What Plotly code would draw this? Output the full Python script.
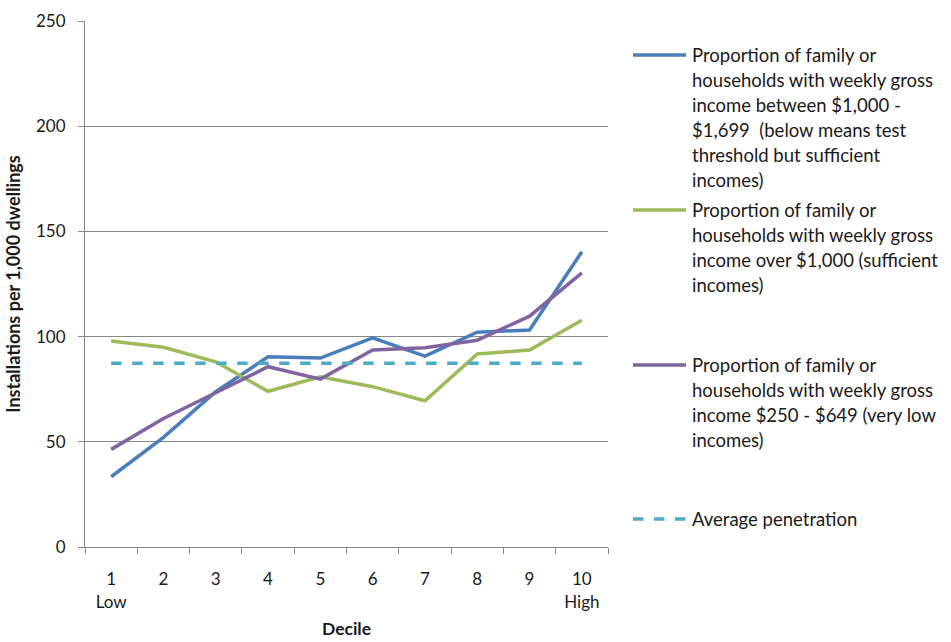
import plotly.graph_objects as go

# Deciles of the area ranking
deciles = ["1<br>Low", "2", "3", "4", "5", "6", "7", "8", "9", "10<br>High"]

# Installations per 1,000 dwellings by decile
mid_income = [33.4, 52.1, 73.8, 90.4, 89.8, 99.4, 90.7, 102.1, 103.1, 140.3]
sufficient_income = [97.9, 94.9, 88.0, 74.0, 80.9, 76.2, 69.5, 91.7, 93.6, 107.8]
very_low_income = [46.4, 61.1, 73.3, 85.7, 79.8, 93.6, 94.7, 98.3, 109.7, 130.3]
average_penetration = [87.3] * 10

series_names = [
    ["Proportion of family or", "households with weekly gross",
     "income between $1,000 -", "$1,699  (below means test",
     "threshold but sufficient", "incomes)"],
    ["Proportion of family or", "households with weekly gross",
     "income over $1,000 (sufficient", "incomes)"],
    ["Proportion of family or", "households with weekly gross",
     "income $250 - $649 (very low", "incomes)"],
    ["Average penetration"],
]

BLUE = "#4A7EBB"
GREEN = "#9BBB59"
PURPLE = "#8064A2"
AQUA = "#4BACC6"
FONT = "Lato"
TEXT = "#1a1a1a"
AXIS = "#888888"

fig = go.Figure()
series = [
    (mid_income, BLUE, "solid"),
    (sufficient_income, GREEN, "solid"),
    (very_low_income, PURPLE, "solid"),
    (average_penetration, AQUA, "dash"),
]
for (vals, col, dash), name in zip(series, series_names):
    fig.add_trace(go.Scatter(
        x=deciles, y=vals, mode="lines", name=" ".join(name),
        line=dict(color=col, width=3.5, dash=dash), showlegend=False,
    ))

W, H = 951, 642
ml, mr, mt, mb = 85, 343, 21, 95
pw, ph = W - ml - mr, H - mt - mb

# Hand-built legend on the right: swatch beside the first line of each entry
legend_tops = [55, 210, 365, 519]
line_gap = 25
for (vals, col, dash), name, top in zip(series, series_names, legend_tops):
    yl = (H - mb - top) / ph
    fig.add_shape(type="line", xref="paper", yref="paper",
                  x0=(633 - ml) / pw, x1=(686 - ml) / pw, y0=yl, y1=yl,
                  line=dict(color=col, width=3.5, dash=dash))
    for i, txt in enumerate(name):
        yy = top + i * line_gap
        fig.add_annotation(
            xref="paper", yref="paper", x=(690 - ml) / pw,
            y=(H - mb - yy) / ph, text=txt, showarrow=False,
            xanchor="left", yanchor="middle",
            font=dict(family=FONT, size=18.5, color=TEXT),
        )

fig.update_layout(
    width=W, height=H,
    margin=dict(l=ml, r=mr, t=mt, b=mb),
    paper_bgcolor="white", plot_bgcolor="white",
    font=dict(family=FONT, size=17, color=TEXT),
    xaxis=dict(
        type="category", range=[-0.5, 9.5], automargin=False,
        tickson="boundaries", ticks="outside", ticklen=6,
        tickcolor=AXIS, showline=True, linecolor=AXIS, linewidth=1,
        showgrid=False, tickfont=dict(size=17), ticklabelstandoff=17,
        title=dict(text="<b>Decile</b>", font=dict(size=17.5), standoff=12),
    ),
    yaxis=dict(
        range=[0, 250], dtick=50, ticks="outside", ticklen=6, automargin=False,
        tickcolor=AXIS, showline=True, linecolor=AXIS, linewidth=1,
        showgrid=True, gridcolor=AXIS, gridwidth=1, zeroline=False,
        tickfont=dict(size=17), ticklabelstandoff=9,
        title=dict(text="<b>Installations per 1,000 dwellings</b>",
                   font=dict(size=18), standoff=10),
    ),
)

fig.write_html("out.html")
